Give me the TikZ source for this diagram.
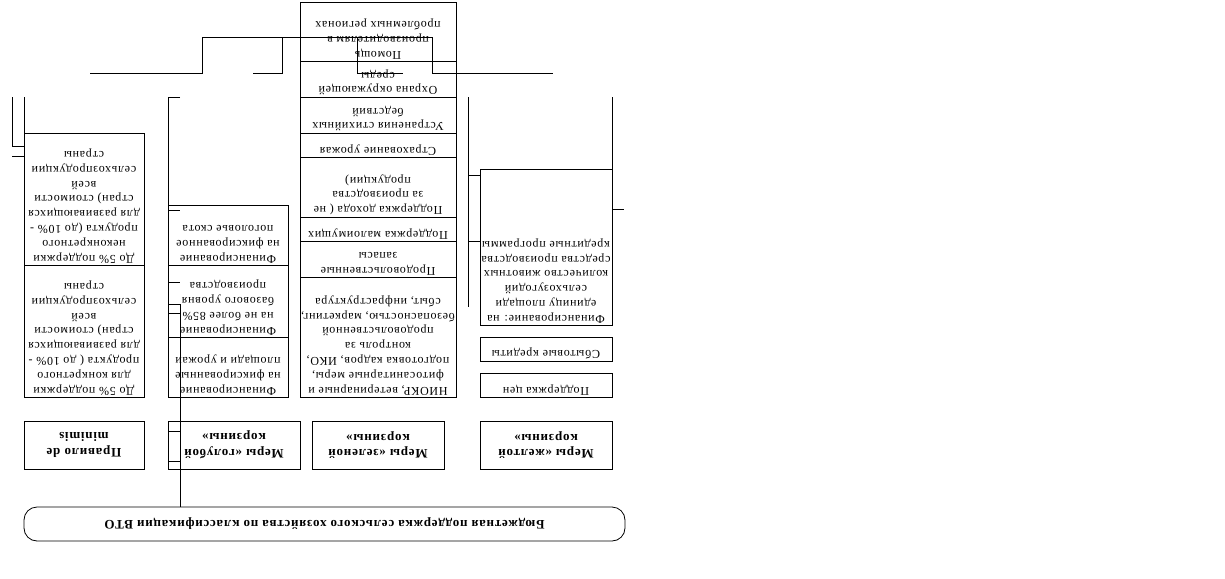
\documentclass[tikz,border=0pt]{standalone}
\usepackage{fontspec}
\setmainfont{Liberation Serif}[LetterSpace=6]
\begin{document}
\begin{tikzpicture}[x=1pt,y=-1pt,line width=0.8pt,
	boxtext/.style={rotate=180,anchor=north,align=center,inner sep=1.5pt,font=\fontsize{12}{14.8}\selectfont},
	basket/.style={draw,rotate=180,align=center,minimum width=#1,minimum height=48pt,inner sep=0pt,font=\bfseries\fontsize{13}{15.5}\selectfont}]
	\useasboundingbox (0,0) rectangle (1225,578);
	\foreach \nm/\xa/\ya/\xb/\yb/\txt in {
		a1/24/265/144/397/{До 5\% поддержки\\для конкретного\\продукта ( до 10\% -\\для развивающихся\\стран) стоимости\\всей\\сельхозпродукции\\страны},
		a2/24/133/144/265/{До 5\% поддержки\\неконкретного\\продукта (до 10\% -\\для развивающихся\\стран) стоимости\\всей\\сельхозпродукции\\страны},
		b1/168/337/288/397/{Финансирование\\на фиксированные\\площади и урожаи},
		b2/168/265/288/337/{Финансирование\\на не более 85\%\\базового уровня\\производства},
		b3/168/205/288/265/{Финансирование\\на фиксированное\\поголовье скота},
		c1/300/277/456/397/{НИОКР, ветеринарные и\\фитосанитарные меры,\\подготовка кадров, ИКО,\\контроль за\\продовольственной\\безопасностью, маркетинг,\\сбыт, инфраструктура},
		c2/300/241/456/277/{Продовольственные\\запасы},
		c3/300/217/456/241/{Поддержка малоимущих},
		c4/300/157/456/217/{Поддержка дохода ( не\\за производства\\продукции)},
		c5/300/133/456/157/{Страхование урожая},
		c6/300/97/456/133/{Устранения стихийных\\бедствий},
		c7/300/61/456/97/{Охрана окружающей\\среды},
		c8/300/2/456/61/{Помощь\\производителям в\\проблемных регионах},
		d1/480/373/612/397/{Поддержка цен},
		d2/480/337/612/361/{Сбытовые кредиты},
		d3/480/169/612/325/{Финансирование: на\\единицу площади\\сельхозугодий\\количество животных\\средства производства\\кредитные программы}} {
		\draw (\xa,\ya) rectangle (\xb,\yb);
		\node[boxtext] (\nm) at ({(\xa+\xb)/2},\yb) {\txt};
	}
	\node[basket=120pt] (minimis) at (84,445) {Правило de\\minimis};
	\node[basket=132pt] (blue) at (234,445) {Меры «голубой\\корзины»};
	\node[basket=132pt] (green) at (378,445) {Меры «зеленой\\корзины»};
	\node[basket=132pt] (yellow) at (546,445) {Меры «желтой\\корзины»};
	\node[draw,rotate=180,rounded corners=13pt,minimum width=601pt,minimum height=34pt,
		font=\bfseries\fontsize{13}{15}\selectfont] (budget) at (324.5,524)
		{Бюджетная поддержка сельского хозяйства по классификации ВТО};
	\draw (90,73) -- (202,73) -- (202,37) -- (432,37) -- (432,73) -- (553,73);
	\draw (253,73) -- (282,73) -- (282,37);
	\draw (357,37) -- (357,73) -- (403,73);
	\draw (12,97) -- (12,146) -- (24,146);
	\draw (24,97) -- (24,133);
	\draw (12,156) -- (24,156);
	\draw (180,97) -- (168,97) -- (168,205);
	\foreach \y in {210,282,304,313,431,461} \draw (168,\y) -- (180,\y);
	\draw (180,304) -- (180,0 |- budget.south);
	\draw (468,97) -- (468,307);
	\draw (612,97) -- (612,169);
	\draw (468,175) -- (480,175);
	\draw (468,241) -- (480,241);
	\draw (612,209) -- (624,209);
\end{tikzpicture}
\end{document}
